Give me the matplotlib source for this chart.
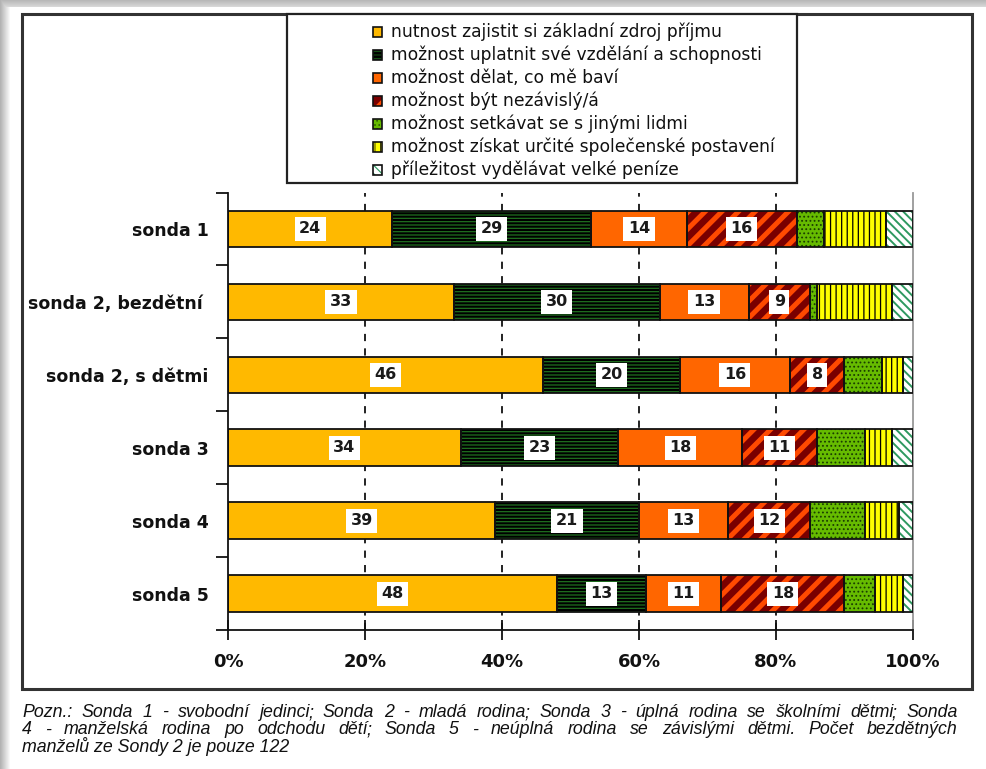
import numpy as np
import matplotlib
matplotlib.use("Agg")
import matplotlib.pyplot as plt
from matplotlib.patches import Rectangle

plt.rcParams["font.family"] = ["DejaVu Sans"]

# ---- data -------------------------------------------------------------
categories = ["sonda 1", "sonda 2, bezdětní ", "sonda 2, s dětmi",
              "sonda 3", "sonda 4", "sonda 5"]

series_names = [
    "nutnost zajistit si základní zdroj příjmu",
    "možnost uplatnit své vzdělání a schopnosti",
    "možnost dělat, co mě baví",
    "možnost být nezávislý/á",
    "možnost setkávat se s jinými lidmi",
    "možnost získat určité společenské postavení",
    "příležitost vydělávat velké peníze",
]

zakladni_prijem = [24, 33, 46, 34, 39, 48]
vzdelani = [29, 30, 20, 23, 21, 13]
co_me_bavi = [14, 13, 16, 18, 13, 11]
nezavislost = [16, 9, 8, 11, 12, 18]
setkavani = [4, 1, 5.5, 7, 8, 4.5]
postaveni = [9, 11, 3, 4, 5, 4]
velke_penize = [4, 3, 1.5, 3, 2, 1.5]

values = [zakladni_prijem, vzdelani, co_me_bavi, nezavislost,
          setkavani, postaveni, velke_penize]
labelled = [True, True, True, True, False, False, False]

x_ticks = [0, 20, 40, 60, 80, 100]
x_tick_labels = ["0%", "20%", "40%", "60%", "80%", "100%"]

note_lines = [
    "Pozn.: Sonda 1 - svobodní jedinci; Sonda 2 - mladá rodina; Sonda 3 - úplná rodina se školními dětmi; Sonda",
    "4 - manželská rodina po odchodu dětí; Sonda 5 - neúplná rodina se závislými dětmi. Počet bezdětných",
    "manželů ze Sondy 2 je pouze 122",
]

# fill, hatch pattern, hatch colour, hatch line width
styles = [
    ("#FFB900", "", "#FFB900", 1.0),
    ("#000000", "-----", "#1f701f", 0.9),
    ("#FF6600", "", "#FF6600", 1.0),
    ("#7a0000", "//", "#FF4a00", 3.6),
    ("#66BB00", "....", "#1a3d00", 0.8),
    ("#FFFF00", "|||", "#000000", 0.9),
    ("#FFFFFF", "\\\\\\\\", "#2E9960", 1.4),
]

W, H = 987, 769
fig = plt.figure(figsize=(W / 100, H / 100), dpi=100)
fig.patch.set_facecolor("white")


def fx(x):
    return x / W


def fy(y):
    return 1 - y / H


# ---- page background with soft shadow ---------------------------------
bg = np.ones((H, W))
for r in range(7):
    bg[r, :] = np.minimum(bg[r, :], 0.72 + 0.02 * r)
for c in range(10):
    bg[:, c] = np.minimum(bg[:, c], 0.70 + 0.03 * c)
bg_ax = fig.add_axes([0, 0, 1, 1], zorder=-10)
bg_ax.imshow(bg, cmap="gray", vmin=0, vmax=1, aspect="auto",
             interpolation="bilinear")
bg_ax.set_axis_off()

fig.add_artist(Rectangle((fx(22), fy(689)), fx(972) - fx(22), fy(14) - fy(689),
                         transform=fig.transFigure, fill=False,
                         edgecolor="#333333", linewidth=2.2, zorder=5))

# ---- chart ------------------------------------------------------------
ax = fig.add_axes([fx(228), fy(630), fx(913) - fx(228), fy(192.5) - fy(630)])
y = np.arange(len(categories))
left = np.zeros(len(categories))


def set_hlw(patches, lw):
    for p in patches:
        if hasattr(p, "set_hatch_linewidth"):
            p.set_hatch_linewidth(lw)


for vals, (fc, hatch, hc, hlw), lab in zip(values, styles, labelled):
    vals = np.asarray(vals, dtype=float)
    with plt.rc_context({"hatch.linewidth": hlw}):
        bars = ax.barh(y, vals, left=left, height=0.5, color=fc,
                       hatch=hatch, edgecolor=hc, linewidth=0, zorder=2)
    set_hlw(bars, hlw)
    ax.barh(y, vals, left=left, height=0.5, fill=False,
            edgecolor="#111111", linewidth=1.3, zorder=3)
    if lab:
        for yi, l, v in zip(y, left, vals):
            ax.text(l + v / 2, yi, f"{v:g}", ha="center", va="center",
                    fontsize=11.5, fontweight="bold", color="#1a1a1a",
                    zorder=4,
                    bbox=dict(boxstyle="square,pad=0.28", fc="white",
                              ec="none"))
    left = left + vals

ax.set_xlim(0, 100)
ax.set_ylim(len(categories) - 0.5, -0.5)
ax.set_xticks(x_ticks)
ax.set_xticklabels(x_tick_labels, fontsize=13, fontweight="bold",
                   color="#111111")
ax.tick_params(axis="x", direction="inout", length=15, width=1.3,
               pad=9, colors="#111111")
ax.set_yticks(y)
ax.set_yticklabels(categories, fontsize=12.5, fontweight="bold",
                   color="#111111")
ax.tick_params(axis="y", which="major", length=0, pad=14)
ax.set_yticks(np.arange(-0.5, len(categories) + 0.5, 1.0), minor=True)
ax.tick_params(axis="y", which="minor", length=9, width=1.3,
               direction="out", colors="#111111")

for g in x_ticks[1:-1]:
    ax.axvline(g, color="#111111", linewidth=1.3, linestyle=(0, (4, 4)),
               zorder=1)

ax.spines["top"].set_visible(False)
ax.spines["right"].set_color("#999999")
ax.spines["right"].set_linewidth(1.3)
ax.spines["left"].set_linewidth(1.3)
ax.spines["bottom"].set_linewidth(1.3)
ax.spines["left"].set_color("#111111")
ax.spines["bottom"].set_color("#111111")
ax.set_facecolor("none")

# ---- legend -----------------------------------------------------------
fig.add_artist(Rectangle((fx(287), fy(183)), fx(797) - fx(287), fy(14) - fy(183),
                         transform=fig.transFigure, facecolor="white",
                         edgecolor="#222222", linewidth=1.6, zorder=6))
for i, (name, (fc, hatch, hc, hlw)) in enumerate(zip(series_names, styles)):
    yc = 32 + 23 * i
    with plt.rc_context({"hatch.linewidth": hlw * 0.6}):
        sq = Rectangle((fx(373), fy(yc + 4.5)), fx(9), 9 / H,
                       transform=fig.transFigure, facecolor=fc, hatch=hatch,
                       edgecolor=hc, linewidth=0, zorder=7)
    set_hlw([sq], hlw * 0.6)
    fig.add_artist(sq)
    fig.add_artist(Rectangle((fx(373), fy(yc + 4.5)), fx(9), 9 / H,
                             transform=fig.transFigure, fill=False,
                             edgecolor="#111111", linewidth=1.2, zorder=8))
    fig.text(fx(391), fy(yc + 5), name, ha="left", va="baseline",
             fontsize=12.3, color="#111111", zorder=8)

# ---- footnote (justified) ----------------------------------------------
note_kw = dict(fontsize=12.8, style="italic", family="Liberation Sans",
               color="#111111")
renderer = fig.canvas.get_renderer()
x0, x1 = 22, 958


def word_pieces(word):
    # a trailing semicolon is set as its own piece
    if word.endswith(";") and len(word) > 1:
        return [word[:-1], ";"]
    return [word]


for li, line in enumerate(note_lines):
    yb = 717 + 17.5 * li
    if li == len(note_lines) - 1:
        fig.text(fx(x0), fy(yb), line, ha="left", va="baseline", **note_kw)
        continue
    words = line.split(" ")
    groups = []
    for w in words:
        pieces = [fig.text(0, fy(yb), p, ha="left", va="baseline", **note_kw)
                  for p in word_pieces(w)]
        pw = [t.get_window_extent(renderer).width for t in pieces]
        if len(pw) == 2:
            pw[0] -= 2.0  # tuck the semicolon against its word
        groups.append((pieces, pw))
    total = sum(sum(pw) for _, pw in groups)
    gap = (x1 - x0 - total) / (len(groups) - 1)
    xp = x0
    for pieces, pw in groups:
        for t, w in zip(pieces, pw):
            t.set_x(fx(xp))
            xp += w
        xp += gap

fig.savefig("out.png", dpi=100)
